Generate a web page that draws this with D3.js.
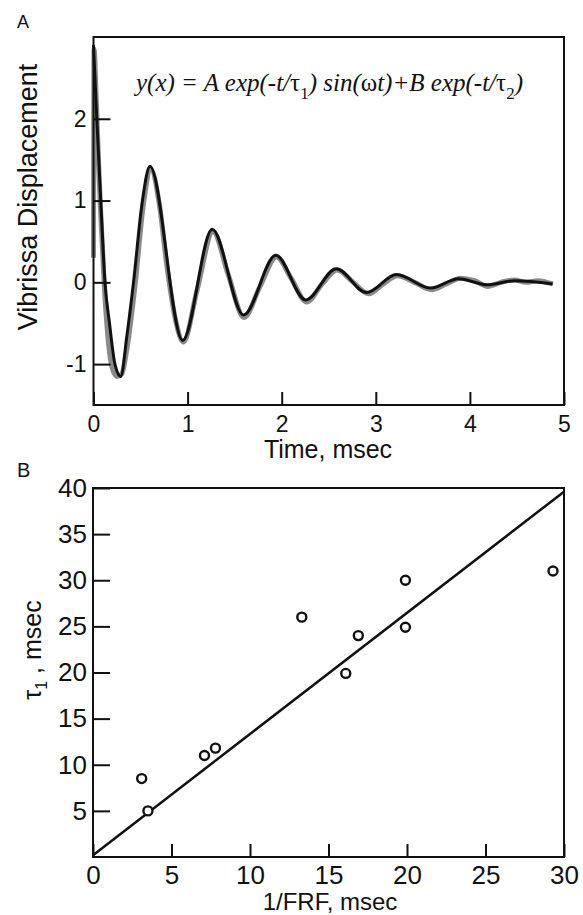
<!DOCTYPE html>
<html lang="en">
<head>
    <meta charset="UTF-8">
    <title>Vibrissa</title>
    <script src="https://d3js.org/d3.v7.min.js"></script>
    <style>
        body { margin: 0; background: #fff; }
        text { font-family: 'Liberation Sans', Arial, sans-serif; fill: #111; }
        .tick line { stroke: #111; stroke-width: 2; }
        .formula { font-family: 'Liberation Serif', 'Times New Roman', serif; font-style: italic; }
    </style>
</head>
<body>
<script>
    const width = 583;
    const height = 915;

    // panel A: measured trace (grey) and fitted curve (black)
    const traceT = [0, 0.006, 0.03, 0.07, 0.115, 0.16, 0.2, 0.25, 0.3, 0.35, 0.44, 0.53, 0.61, 0.7, 0.78, 0.87, 0.955,
                    1.1, 1.27, 1.43, 1.6, 1.77, 1.945, 2.1, 2.265, 2.43, 2.59, 2.76, 2.925, 3.08, 3.23, 3.41, 3.59, 3.75,
                    3.9, 4.05, 4.19, 4.33, 4.47, 4.6, 4.72, 4.88];
    const traceY = [0.3, 2.85, 2.2, 1.0, -0.05, -0.75, -1.05, -1.15, -1.12, -0.85, -0.05, 0.95, 1.38, 0.95, 0.2, -0.45, -0.73,
                    -0.1, 0.62, 0.1, -0.43, -0.05, 0.31, 0.05, -0.24, -0.02, 0.15, 0.0, -0.14, -0.02, 0.08, 0.0, -0.09, -0.02,
                    0.05, 0.02, -0.05, 0.0, 0.03, 0.0, 0.02, -0.02];
    const fitT = [0, 0.035, 0.077, 0.122, 0.17, 0.228, 0.29, 0.355, 0.425, 0.52, 0.6, 0.948, 1.262, 1.595, 1.937,
                  2.255, 2.58, 2.9, 3.22, 3.58, 3.88, 4.18, 4.48, 4.88];
    const fitY = [2.9, 2.0, 1.0, 0.0, -0.5, -1.0, -1.15, -0.65, 0.0, 1.0, 1.42, -0.71, 0.65, -0.40, 0.33,
                  -0.215, 0.167, -0.125, 0.095, -0.07, 0.045, -0.03, 0.02, -0.02];
    const xTicksA = [0, 1, 2, 3, 4, 5];
    const yTicksA = [-1, 0, 1, 2];

    // panel B: tau1 vs 1/FRF
    const frfInv = [3.1, 3.5, 7.1, 7.8, 13.3, 16.1, 16.9, 19.9, 19.9, 29.3];
    const tau1 = [8.5, 5.0, 11.0, 11.8, 26.0, 19.9, 24.0, 30.0, 24.9, 31.0];
    const fitLineX = [0, 30];
    const fitLineY = [0.2, 39.6];
    const xTicksB = [0, 5, 10, 15, 20, 25, 30];
    const yTicksB = [5, 10, 15, 20, 25, 30, 35, 40];

    const plain = d => String(d);   // hyphen minus, as in the original

    const svg = d3.select("body").append("svg").attr("width", width).attr("height", height);

    // ---------- panel A ----------
    const xA = d3.scaleLinear().domain([0, 5]).range([93.5, 564]);
    const yA = d3.scaleLinear().domain([-1.5, 3]).range([405, 37]);

    const gA = svg.append("g");

    const line = d3.line().curve(d3.curveMonotoneX);

    gA.append("path")
        .attr("d", line.x(d => xA(d[0])).y(d => yA(d[1]))(traceT.map((t, i) => [t, traceY[i]])))
        .attr("fill", "none")
        .attr("stroke", "#8a8a8a")
        .attr("stroke-width", 5)
        .attr("stroke-linejoin", "round");

    gA.append("path")
        .attr("d", line.x(d => xA(d[0])).y(d => yA(d[1]))(fitT.map((t, i) => [t, fitY[i]])))
        .attr("fill", "none")
        .attr("stroke", "#111")
        .attr("stroke-width", 3)
        .attr("stroke-linejoin", "round");

    gA.append("rect")
        .attr("x", xA(0)).attr("y", yA(3))
        .attr("width", xA(5) - xA(0)).attr("height", yA(-1.5) - yA(3))
        .attr("fill", "none").attr("stroke", "#111").attr("stroke-width", 2);

    const axA = gA.append("g").attr("transform", `translate(0,${yA(-1.5)})`)
        .call(d3.axisBottom(xA).tickValues(xTicksA).tickSize(-13).tickPadding(11).tickFormat(plain));
    axA.select(".domain").remove();
    axA.selectAll("text").style("font-size", "23px");

    const ayA = gA.append("g").attr("transform", `translate(${xA(0)},0)`)
        .call(d3.axisLeft(yA).tickValues(yTicksA).tickSize(-17).tickPadding(7).tickFormat(plain));
    ayA.select(".domain").remove();
    ayA.selectAll("text").style("font-size", "23px");

    svg.append("text").attr("x", 328).attr("y", 458).attr("text-anchor", "middle")
        .style("font-size", "25px").text("Time, msec");
    svg.append("text").attr("transform", "translate(37,197) rotate(-90)").attr("text-anchor", "middle")
        .style("font-size", "27px").text("Vibrissa Displacement");
    svg.append("text").attr("x", 17).attr("y", 28).style("font-size", "18px").text("A");

    const f = svg.append("text").attr("class", "formula").attr("x", 136).attr("y", 91).style("font-size", "25px");
    f.append("tspan").text("y(x) = A exp(-t/");
    f.append("tspan").style("font-style", "normal").text("τ");
    f.append("tspan").attr("dy", 8).style("font-size", "17px").style("font-style", "normal").text("1");
    f.append("tspan").attr("dy", -8).text(") sin(");
    f.append("tspan").style("font-style", "normal").text("ω");
    f.append("tspan").text("t)+B exp(-t/");
    f.append("tspan").style("font-style", "normal").text("τ");
    f.append("tspan").attr("dy", 8).style("font-size", "17px").style("font-style", "normal").text("2");
    f.append("tspan").attr("dy", -8).text(")");

    // ---------- panel B ----------
    const xB = d3.scaleLinear().domain([0, 30]).range([93, 564]);
    const yB = d3.scaleLinear().domain([0, 40]).range([857, 488]);

    const gB = svg.append("g");

    gB.append("rect")
        .attr("x", xB(0)).attr("y", yB(40))
        .attr("width", xB(30) - xB(0)).attr("height", yB(0) - yB(40))
        .attr("fill", "none").attr("stroke", "#111").attr("stroke-width", 2);

    gB.append("path")
        .attr("d", d3.line().x(d => xB(d[0])).y(d => yB(d[1]))(fitLineX.map((v, i) => [v, fitLineY[i]])))
        .attr("fill", "none").attr("stroke", "#111").attr("stroke-width", 2.5);

    gB.selectAll("circle")
        .data(frfInv.map((v, i) => [v, tau1[i]]))
        .enter()
        .append("circle")
        .attr("cx", d => xB(d[0]))
        .attr("cy", d => yB(d[1]))
        .attr("r", 4.5)
        .attr("fill", "#fff")
        .attr("stroke", "#111")
        .attr("stroke-width", 2.4);

    const axB = gB.append("g").attr("transform", `translate(0,${yB(0)})`)
        .call(d3.axisBottom(xB).tickValues(xTicksB).tickSize(-13).tickPadding(9).tickFormat(plain));
    axB.select(".domain").remove();
    axB.selectAll("text").style("font-size", "26px");

    const ayB = gB.append("g").attr("transform", `translate(${xB(0)},0)`)
        .call(d3.axisLeft(yB).tickValues(yTicksB).tickSize(-17).tickPadding(6).tickFormat(plain));
    ayB.select(".domain").remove();
    ayB.selectAll("text").style("font-size", "26px");

    svg.append("text").attr("x", 330).attr("y", 910).attr("text-anchor", "middle")
        .style("font-size", "24px").text("1/FRF, msec");
    const tl = svg.append("text").attr("transform", "translate(41,650) rotate(-90)").attr("text-anchor", "middle")
        .style("font-size", "25px");
    tl.append("tspan").text("τ");
    tl.append("tspan").attr("dy", 6).style("font-size", "16px").text("1");
    tl.append("tspan").attr("dy", -6).text(" , msec");
    svg.append("text").attr("x", 17).attr("y", 477).style("font-size", "20px").text("B");
</script>
</body>
</html>
